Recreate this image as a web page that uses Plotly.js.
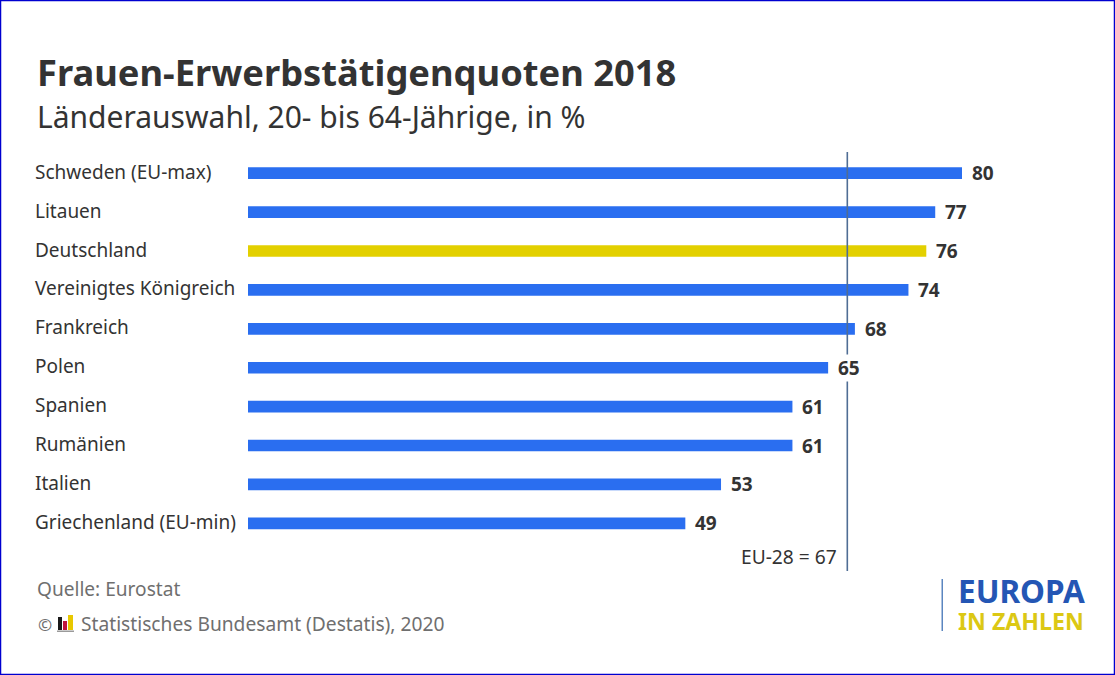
<!DOCTYPE html>
<html><head><meta charset="utf-8">
<script src="https://cdn.plot.ly/plotly-3.0.1.min.js"></script>
<style>html,body{margin:0;padding:0;background:#fff;overflow:hidden}#c{width:1115px;height:675px}</style>
</head><body><div id="c"></div>
<script>
const categories=["Schweden (EU-max)","Litauen","Deutschland","Vereinigtes Königreich","Frankreich","Polen","Spanien","Rumänien","Italien","Griechenland (EU-min)"];
const values=[80,77,76,74,68,65,61,61,53,49];
const highlighted="Deutschland";
const euLinePosition=67.15;
const euLabel="EU-28 = 67";
const titleText="Frauen-Erwerbstätigenquoten 2018";
const subtitleText="Länderauswahl, 20- bis 64-Jährige, in %";
const sourceText="Quelle: Eurostat";
const copyrightText="©";
const publisherText="Statistisches Bundesamt (Destatis), 2020";

const W=1115,H=675,L=248,T=152,B=571;
const mR=115,plotW=W-L-mR,plotH=B-T;
const px=x=>(x-L)/plotW, py=y=>(B-y)/plotH;
const F='"Noto Sans", sans-serif';
const dark='#333333', grey='#6f6f6f';
const txt=(x,y,text,size,color,opt={})=>Object.assign({xref:'paper',yref:'paper',x:px(x),y:py(y),text,showarrow:false,xanchor:'left',yanchor:'middle',align:'left',font:{family:F,size,color}},opt);

const annotations=[
 txt(35,72,'<b>'+titleText+'</b>',36.3,dark),
 txt(35,117,subtitleText,30,dark),
 txt(35,589,sourceText,19.1,grey),
 txt(36,624,copyrightText,17,grey),
 txt(79,623.5,publisherText,19.2,grey),
 txt(839,556.5,euLabel,19.2,dark,{xanchor:'right'}),
 txt(956,603,'<span style="color:#2456b4;font-size:31.5px"><b>EUROPA</b></span><br><span style="font-size:23.2px"><b>IN ZAHLEN</b></span>',21,'#dcc814')
];
categories.forEach((c,i)=>{
 annotations.push({xref:'paper',yref:'y',x:px(33),y:c,yshift:1.5,text:c,showarrow:false,xanchor:'left',yanchor:'middle',font:{family:F,size:19,color:dark}});
 annotations.push({xref:'x',yref:'y',x:values[i],y:c,text:'<b>'+values[i]+'</b>',showarrow:false,xanchor:'left',yanchor:'middle',xshift:9,bgcolor:'#ffffff',borderpad:0,font:{family:F,size:19,color:dark}});
});

const box=(x0,y0,x1,y1,color)=>({type:'rect',xref:'paper',yref:'paper',x0:px(x0),x1:px(x1),y0:py(y1),y1:py(y0),fillcolor:color,line:{width:0}});
const shapes=[
 {type:'line',xref:'x',yref:'paper',x0:euLinePosition,x1:euLinePosition,y0:0,y1:1,line:{color:'#4f6d95',width:1.6},layer:'above'},
 box(941.5,579,943,631,'#5b86c0'),
 box(58,617,62,630,'#1a1a1a'),box(63,621,67,630,'#c0143c'),box(68,615,73,630,'#e8c800'),box(57,630.5,74,632,'#9a9a9a'),
 {type:'rect',xref:'paper',yref:'paper',x0:px(0.5),x1:px(W-0.5),y0:py(H-0.5),y1:py(0.5),line:{color:'#0000d0',width:1.5},fillcolor:'rgba(0,0,0,0)'}
];

Plotly.newPlot('c',[{
 type:'bar',orientation:'h',y:categories,x:values,width:0.3,
 marker:{color:categories.map(c=>c===highlighted?'#e3d000':'#2a6ef0'),line:{width:0}},
 hoverinfo:'skip'
}],{
 width:W,height:H,margin:{l:L,r:mR,t:T,b:H-B,pad:0},
 paper_bgcolor:'#fff',plot_bgcolor:'rgba(0,0,0,0)',showlegend:false,
 xaxis:{range:[0,plotW/8.925],visible:false,fixedrange:true},
 yaxis:{type:'category',categoryorder:'array',categoryarray:categories,range:[10.225,-0.545],showticklabels:false,showgrid:false,zeroline:false,showline:false,ticks:'',fixedrange:true},
 annotations,shapes
},{staticPlot:true,displayModeBar:false});
</script></body></html>
